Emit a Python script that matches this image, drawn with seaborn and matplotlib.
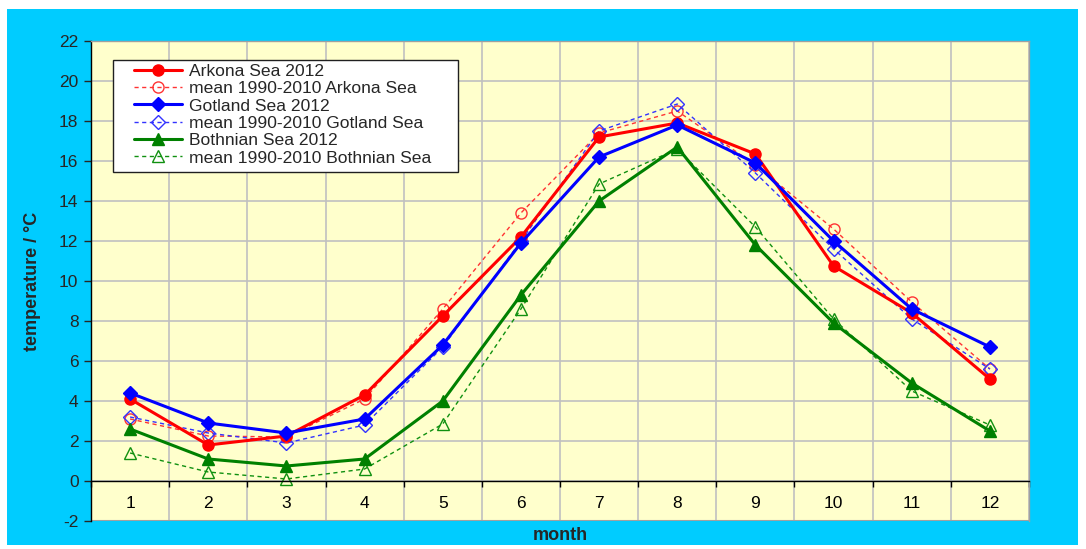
import matplotlib
matplotlib.use("Agg")
import matplotlib.pyplot as plt
from matplotlib.patches import Rectangle
from matplotlib.ticker import MultipleLocator, FixedLocator
import seaborn as sns
import pandas as pd

months = [1, 2, 3, 4, 5, 6, 7, 8, 9, 10, 11, 12]
arkona_2012 = [4.1, 1.8, 2.25, 4.3, 8.25, 12.2, 17.2, 17.9, 16.35, 10.75, 8.4, 5.1]
arkona_mean = [3.1, 2.25, 2.2, 4.1, 8.6, 13.4, 17.4, 18.5, 15.8, 12.6, 8.95, 5.6]
gotland_2012 = [4.4, 2.9, 2.4, 3.1, 6.8, 11.9, 16.2, 17.8, 15.9, 12.0, 8.6, 6.7]
gotland_mean = [3.2, 2.4, 1.9, 2.8, 6.7, 12.0, 17.5, 18.85, 15.4, 11.6, 8.1, 5.6]
bothnian_2012 = [2.6, 1.1, 0.75, 1.1, 4.0, 9.3, 14.0, 16.7, 11.8, 7.9, 4.9, 2.5]
bothnian_mean = [1.4, 0.45, 0.1, 0.6, 2.85, 8.6, 14.85, 16.6, 12.7, 8.1, 4.5, 2.8]

DASH = (0, (3, 2.5))
series = [
    ("Arkona Sea 2012", arkona_2012, "#FF0000", "-", "o", True, 2.2, 8),
    ("mean 1990-2010 Arkona Sea", arkona_mean, "#FF3333", DASH, "o", False, 1.0, 8),
    ("Gotland Sea 2012", gotland_2012, "#0000FF", "-", "D", True, 2.2, 7),
    ("mean 1990-2010 Gotland Sea", gotland_mean, "#3333FF", DASH, "D", False, 1.0, 7),
    ("Bothnian Sea 2012", bothnian_2012, "#008000", "-", "^", True, 2.2, 9),
    ("mean 1990-2010 Bothnian Sea", bothnian_mean, "#109010", DASH, "^", False, 1.0, 9),
]

sns.set_style("white")
plt.rcParams["font.family"] = ["Liberation Sans", "DejaVu Sans"]
plt.rcParams["axes.unicode_minus"] = False

fig = plt.figure(figsize=(10.86, 5.49), dpi=100)
fig.patch.set_facecolor("white")
bg = Rectangle((7 / 1086, 4 / 549), 1071 / 1086, 536 / 549,
               transform=fig.transFigure, facecolor="#00CCFF",
               edgecolor="none", zorder=-10)
fig.add_artist(bg)
ax = fig.add_axes([91 / 1086, 28 / 549, 938 / 1086, 480 / 549])
ax.set_zorder(1)
ax.set_facecolor("#FFFFCC")

for label, vals, color, ls, mk, filled, lw, ms in series:
    df = pd.DataFrame({"month": months, "temp": vals})
    sns.lineplot(data=df, x="month", y="temp", ax=ax, color=color, linestyle=ls,
                 linewidth=lw, marker=mk, markersize=ms, sort=False,
                 markerfacecolor=color if filled else "none",
                 markeredgecolor=color, markeredgewidth=1.0,
                 label=label, zorder=3 if filled else 2)

ax.set_xlim(0.5, 12.5)
ax.set_ylim(-2, 22)
ax.yaxis.set_major_locator(MultipleLocator(2))
ax.xaxis.set_major_locator(FixedLocator(months))
ax.xaxis.set_minor_locator(FixedLocator([m + 0.5 for m in range(0, 13)]))
ax.set_xticklabels([str(m) for m in months])

ax.grid(True, which="major", axis="y", color="#C0C0C0", linewidth=1.2, zorder=0)
ax.grid(True, which="minor", axis="x", color="#C0C0C0", linewidth=1.2, zorder=0)
ax.set_axisbelow(True)

ax.spines["bottom"].set_position(("data", 0))
ax.spines["bottom"].set_color("black")
ax.spines["bottom"].set_linewidth(1.0)
ax.spines["left"].set_color("black")
ax.spines["left"].set_linewidth(1.0)
for s in ("top", "right"):
    ax.spines[s].set_visible(True)
    ax.spines[s].set_color("#A0A0A0")
    ax.spines[s].set_linewidth(1.0)
ax.axhline(-2, color="#A0A0A0", linewidth=1.5, zorder=1)

ax.tick_params(axis="x", which="major", length=0, pad=11, labelsize=12.5, colors="black")
ax.tick_params(axis="x", which="minor", length=4, direction="out", width=1, colors="black", bottom=True)
ax.tick_params(axis="y", which="major", length=5, direction="out", width=1, labelsize=12.5, pad=4, left=True)

ax.set_xlabel("month", fontsize=13, fontweight="bold")
ax.set_ylabel("temperature / °C", fontsize=13, fontweight="bold")
ax.xaxis.set_label_coords(0.5, -0.013)
ax.yaxis.set_label_coords(-0.053, 0.5)

# legend frame (Excel style: wide horizontal padding)
frame = Rectangle((0.0235, 0.727), 0.3678, 0.2334, transform=ax.transAxes,
                  facecolor="white", edgecolor="#202020", linewidth=1.0, zorder=5)
ax.add_patch(frame)
leg = ax.legend(loc="upper left", bbox_to_anchor=(0.046, 0.953), fontsize=12.6,
                frameon=False, handlelength=2.75, labelspacing=0.12, borderpad=0.0,
                handletextpad=0.4, borderaxespad=0)
leg.set_zorder(6)

fig.savefig("out.png", dpi=100, facecolor=fig.get_facecolor())
